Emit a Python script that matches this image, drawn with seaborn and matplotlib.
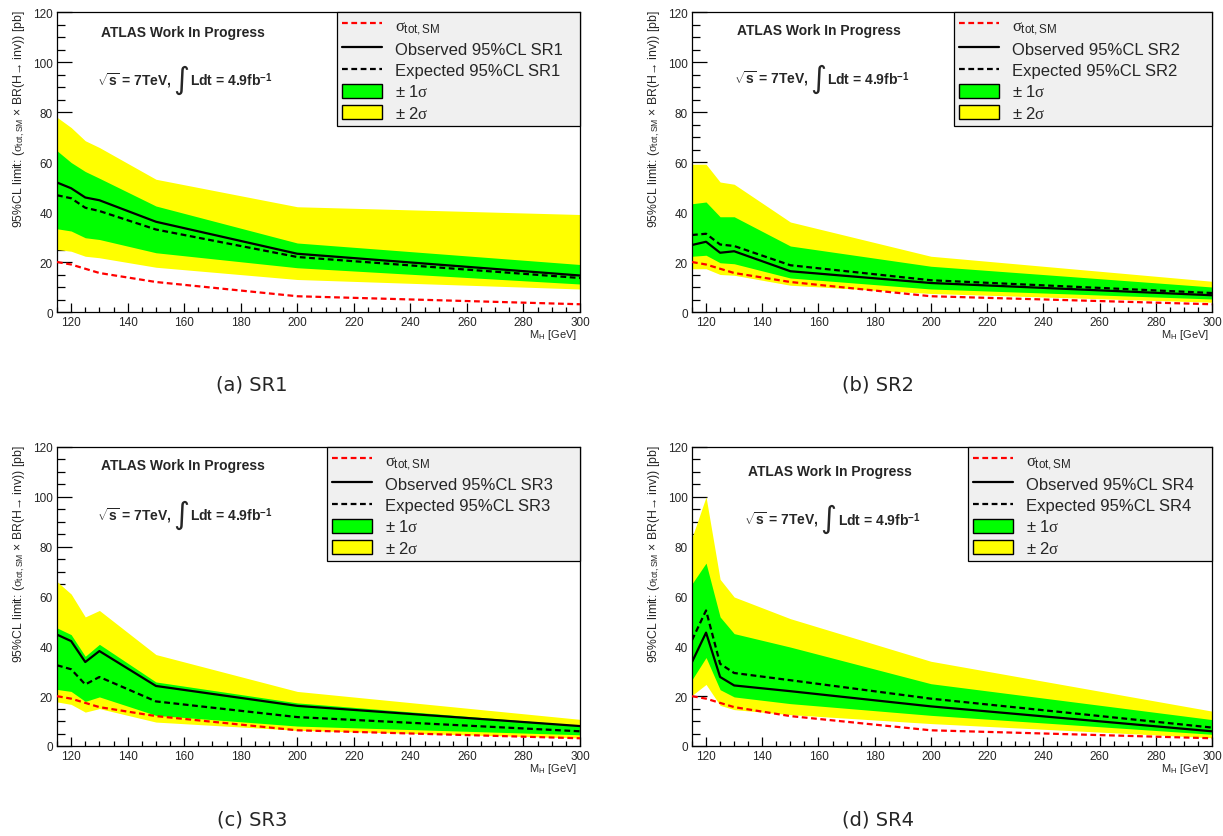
import matplotlib
matplotlib.use("Agg")
import matplotlib.pyplot as plt
from matplotlib.lines import Line2D
from matplotlib.patches import Patch
from matplotlib.ticker import MultipleLocator
from matplotlib.offsetbox import TextArea, HPacker, AnchoredOffsetbox
import seaborn as sns

# Higgs mass points [GeV]
mass = [115, 120, 125, 130, 150, 200, 300]
# SM total cross-section [pb]
xsec_sm = [20.0, 19.0, 17.3, 15.6, 12.0, 6.3, 3.1]

# SR1 limits [pb]
sr1_obs = [51.8, 49.5, 45.8, 44.7, 36.1, 23.3, 14.6]
sr1_exp = [46.7, 45.5, 41.7, 40.4, 33.0, 22.0, 13.6]
sr1_m1 = [33.3, 32.4, 29.7, 29.0, 23.7, 17.7, 11.2]
sr1_p1 = [64.5, 59.8, 56.2, 53.5, 42.4, 27.6, 19.0]
sr1_m2 = [25.0, 24.3, 22.3, 21.7, 17.9, 13.0, 9.2]
sr1_p2 = [77.9, 73.8, 68.5, 65.8, 53.1, 42.1, 39.0]

# SR2 limits [pb]
sr2_obs = [26.8, 28.1, 23.7, 24.3, 16.3, 11.6, 6.7]
sr2_exp = [30.8, 31.3, 27.0, 26.4, 18.7, 12.7, 7.6]
sr2_m1 = [22.3, 22.7, 19.7, 19.3, 13.6, 9.2, 5.2]
sr2_p1 = [43.3, 44.0, 38.1, 38.1, 26.4, 18.3, 10.0]
sr2_m2 = [17.3, 17.3, 15.0, 14.7, 10.7, 7.4, 3.9]
sr2_p2 = [59.1, 59.1, 52.0, 51.1, 36.0, 22.3, 12.3]

# SR3 limits [pb]
sr3_obs = [44.7, 42.1, 33.7, 38.1, 24.1, 16.1, 8.0]
sr3_exp = [32.4, 30.8, 24.7, 27.7, 17.9, 11.6, 5.9]
sr3_m1 = [22.7, 21.9, 17.9, 19.7, 12.3, 8.0, 4.5]
sr3_p1 = [47.4, 44.7, 36.0, 40.8, 25.7, 17.3, 8.3]
sr3_m2 = [17.7, 16.7, 13.6, 15.0, 9.6, 6.3, 3.2]
sr3_p2 = [66.0, 61.0, 51.8, 54.4, 36.7, 21.9, 10.7]

# SR4 limits [pb]
sr4_obs = [33.7, 45.5, 27.7, 24.3, 22.0, 15.9, 5.9]
sr4_exp = [42.5, 54.4, 33.0, 29.3, 26.4, 19.0, 7.4]
sr4_m1 = [26.6, 35.5, 22.6, 19.7, 17.0, 12.3, 4.7]
sr4_p1 = [65.1, 73.4, 51.8, 45.1, 39.7, 25.0, 10.6]
sr4_m2 = [20.3, 24.7, 16.3, 14.6, 12.6, 9.0, 3.3]
sr4_p2 = [83.6, 100.0, 66.9, 59.8, 51.1, 34.0, 14.0]

regions = ["SR1", "SR2", "SR3", "SR4"]
captions = ["(a) SR1", "(b) SR2", "(c) SR3", "(d) SR4"]

sns.set_style("ticks")
plt.rcParams["font.family"] = ["Liberation Sans", "DejaVu Sans"]
plt.rcParams["mathtext.fontset"] = "custom"
plt.rcParams["mathtext.rm"] = "Liberation Sans"
plt.rcParams["mathtext.it"] = "Liberation Serif"
plt.rcParams["mathtext.bf"] = "Liberation Sans:bold"
plt.rcParams["axes.linewidth"] = 0.9

W, H = 1223, 837
fig = plt.figure(figsize=(W / 100, H / 100), dpi=100)

# axes boxes in pixels: left, right, top, bottom
boxes = [(57, 580, 13, 313), (692, 1212, 13, 313),
         (57, 580, 448, 747), (692, 1212, 448, 747)]
legend_w = [0.465, 0.496, 0.484, 0.469]
text_pos = [(0.24, 0.935, 0.245, 0.775), (0.245, 0.94, 0.25, 0.78),
            (0.24, 0.94, 0.245, 0.775), (0.265, 0.92, 0.27, 0.76)]
caption_pos = [(252, 385), (878, 385), (252, 820), (878, 820)]

data = {
    "SR1": (sr1_obs, sr1_exp, sr1_m1, sr1_p1, sr1_m2, sr1_p2),
    "SR2": (sr2_obs, sr2_exp, sr2_m1, sr2_p1, sr2_m2, sr2_p2),
    "SR3": (sr3_obs, sr3_exp, sr3_m1, sr3_p1, sr3_m2, sr3_p2),
    "SR4": (sr4_obs, sr4_exp, sr4_m1, sr4_p1, sr4_m2, sr4_p2),
}

dash = (0, (2.6, 1.6))
ylabel = r"95%CL limit: ($\sigma_{\mathrm{tot,SM}}$ × BR(H→ inv)) [pb]"

for i, reg in enumerate(regions):
    l, r, t, b = boxes[i]
    ax = fig.add_axes([l / W, 1 - b / H, (r - l) / W, (b - t) / H])
    obs, exp, m1, p1, m2, p2 = data[reg]

    ax.fill_between(mass, m2, p2, color="#ffff00", lw=0, zorder=1)
    ax.fill_between(mass, m1, p1, color="#00ff00", lw=0, zorder=2)
    sns.lineplot(x=mass, y=xsec_sm, ax=ax, color="#ff0000", lw=1.6,
                 linestyle=dash, zorder=3)
    sns.lineplot(x=mass, y=exp, ax=ax, color="black", lw=1.6,
                 linestyle=dash, zorder=4)
    sns.lineplot(x=mass, y=obs, ax=ax, color="black", lw=1.6, zorder=5)

    ax.set_xlim(115, 300)
    ax.set_ylim(0, 120)
    ax.xaxis.set_major_locator(MultipleLocator(20))
    ax.xaxis.set_minor_locator(MultipleLocator(5))
    ax.yaxis.set_major_locator(MultipleLocator(20))
    ax.yaxis.set_minor_locator(MultipleLocator(5))
    ax.tick_params(axis="both", which="both", direction="in", top=False,
                   right=False, labelsize=8.5, width=0.9, color="black")
    ax.tick_params(axis="x", which="major", length=6.5, pad=3)
    ax.tick_params(axis="x", which="minor", length=3.5)
    ax.tick_params(axis="y", which="major", length=10.5, pad=3)
    ax.tick_params(axis="y", which="minor", length=5.5)
    for sp in ax.spines.values():
        sp.set_visible(True)
        sp.set_color("black")

    ax.set_xlabel(r"M$_{\mathrm{H}}$ [GeV]", fontsize=8, loc="right")
    ax.xaxis.set_label_coords(0.995, -0.05)
    ax.set_ylabel(ylabel, fontsize=8.8, loc="top")
    ax.yaxis.set_label_coords(-0.058, 1.01)

    ax.set_facecolor("white")
    ax.grid(False)

    tx1, ty1, tx2, ty2 = text_pos[i]
    ax.text(tx1, ty1, "ATLAS Work In Progress", transform=ax.transAxes,
            fontsize=10, fontweight="bold", ha="center", va="center")

    # centre-of-mass energy and luminosity with a tall integral sign
    bold = dict(fontsize=10, fontweight="bold")
    lumi = HPacker(children=[
        TextArea(r"$\sqrt{\mathbf{s}}$ = 7TeV,", textprops=bold),
        TextArea("∫", textprops=dict(fontsize=22, family="DejaVu Sans")),
        TextArea(r"Ldt = 4.9fb$^{\mathbf{-1}}$", textprops=bold),
    ], align="center", pad=0, sep=1)
    ax.add_artist(AnchoredOffsetbox(loc="center", child=lumi, pad=0,
                                    borderpad=0, frameon=False,
                                    bbox_to_anchor=(tx2, ty2),
                                    bbox_transform=ax.transAxes))

    handles = [
        Line2D([], [], color="#ff0000", lw=1.6, linestyle=dash),
        Line2D([], [], color="black", lw=1.6),
        Line2D([], [], color="black", lw=1.6, linestyle=dash),
        Patch(facecolor="#00ff00", edgecolor="black", lw=1.0),
        Patch(facecolor="#ffff00", edgecolor="black", lw=1.0),
    ]
    labels = [r"$\sigma_{\mathrm{tot,SM}}$",
              f"Observed 95%CL {reg}",
              f"Expected 95%CL {reg}",
              r"± 1$\sigma$", r"± 2$\sigma$"]
    w = legend_w[i]
    leg = ax.legend(handles, labels, loc="upper left",
                    bbox_to_anchor=(1 - w, 0, w, 1), mode="expand",
                    fontsize=12, frameon=True, fancybox=False,
                    facecolor="#f0f0f0", edgecolor="black", framealpha=1,
                    borderaxespad=0, borderpad=0.3, labelspacing=0.33,
                    handlelength=2.4, handleheight=0.9, handletextpad=0.8)
    leg.get_frame().set_linewidth(0.9)
    leg.set_zorder(10)

    cx, cy = caption_pos[i]
    fig.text(cx / W, 1 - cy / H, captions[i], fontsize=14,
             family="DejaVu Sans", ha="center", va="center")

fig.savefig("out.png", dpi=100, facecolor="white")
